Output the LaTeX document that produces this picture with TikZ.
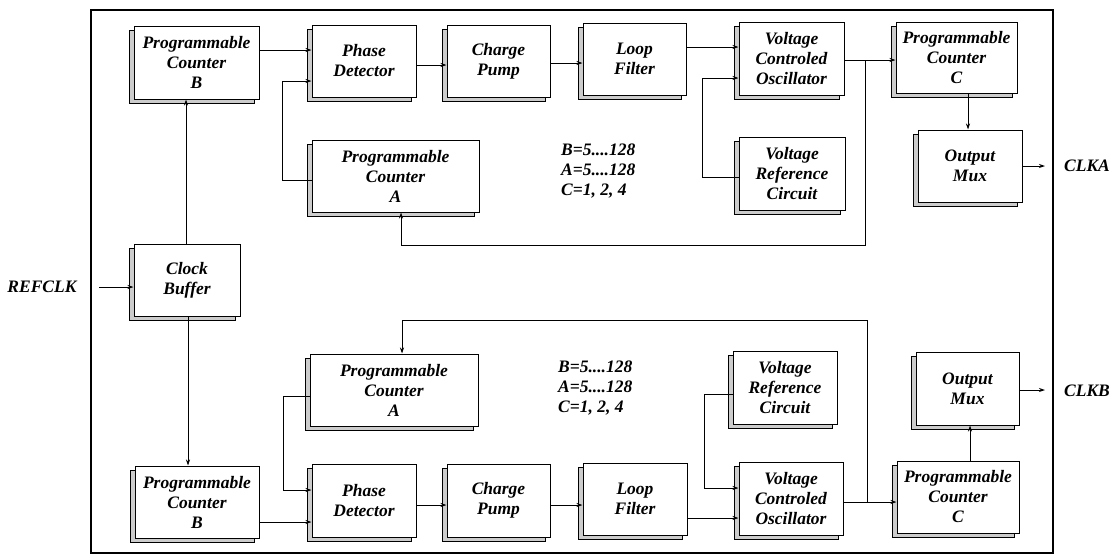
\documentclass[tikz,border=0pt]{standalone}
\usepackage{fontspec}
\setmainfont{Liberation Serif}
\usetikzlibrary{arrows.meta,shadows}
\begin{document}
\begin{tikzpicture}[x=1pt,y=-1pt,
  blk/.style={draw=black, line width=1pt, fill=white, inner sep=0pt, align=center,
    font=\fontsize{17.5}{20}\selectfont\bfseries\itshape,
    drop shadow={shadow xshift=-4.5pt, shadow yshift=-4.5pt, fill=gray!40, draw=black, line width=0.4pt, opacity=1}},
  lbl/.style={inner sep=0pt, font=\fontsize{17.5}{20}\selectfont\bfseries\itshape},
  arr/.style={line width=0.9pt, -{Stealth[length=6pt,width=4pt]}},
  ln/.style={line width=0.9pt}]
\useasboundingbox (0,0) rectangle (1119,558);
\draw[line width=1.1pt] (91,10) rectangle (1053,553);

% ---------- top channel ----------
\node[blk, minimum width=125pt, minimum height=73pt] (pcbT) at (196.5,62.5) {Programmable\\Counter\\B};
\node[blk, minimum width=104pt, minimum height=72pt] (pdT) at (364,61) {Phase\\Detector};
\node[blk, minimum width=103pt, minimum height=72pt] (cpT) at (498.5,61) {Charge\\Pump};
\node[blk, minimum width=103pt, minimum height=72pt] (lfT) at (634.5,59) {Loop\\Filter};
\node[blk, minimum width=105pt, minimum height=73pt] (vcoT) at (791.5,58.5) {Voltage\\Controled\\Oscillator};
\node[blk, minimum width=121pt, minimum height=71pt] (pccT) at (956.5,57.5) {Programmable\\Counter\\C};
\node[blk, minimum width=104pt, minimum height=72pt] (muxT) at (970,166) {Output\\Mux};
\node[blk, minimum width=106pt, minimum height=73pt] (vrcT) at (792,173.5) {Voltage\\Reference\\Circuit};
\node[blk, minimum width=167pt, minimum height=72pt] (pcaT) at (395.5,176) {Programmable\\Counter\\A};
\node[lbl, align=left, anchor=west] (parT) at (561,171) {B=5....128\\A=5....128\\C=1, 2, 4};

\node[blk, minimum width=106pt, minimum height=72pt] (cbuf) at (187,280) {Clock\\Buffer};
\node[lbl] (refclk) at (42,287) {REFCLK};
\coordinate (refin) at (99,287);

% ---------- bottom channel ----------
\node[blk, minimum width=168pt, minimum height=72pt] (pcaB) at (394,390) {Programmable\\Counter\\A};
\node[blk, minimum width=124pt, minimum height=72pt] (pcbB) at (197,502) {Programmable\\Counter\\B};
\node[blk, minimum width=104pt, minimum height=73pt] (pdB) at (364,500.5) {Phase\\Detector};
\node[blk, minimum width=103pt, minimum height=73pt] (cpB) at (498.5,500.5) {Charge\\Pump};
\node[blk, minimum width=104pt, minimum height=72pt] (lfB) at (635,499) {Loop\\Filter};
\node[blk, minimum width=104pt, minimum height=73pt] (vrcB) at (785,387.5) {Voltage\\Reference\\Circuit};
\node[blk, minimum width=104pt, minimum height=73pt] (vcoB) at (791,498.5) {Voltage\\Controled\\Oscillator};
\node[blk, minimum width=122pt, minimum height=72pt] (pccB) at (958,497) {Programmable\\Counter\\C};
\node[blk, minimum width=103pt, minimum height=73pt] (muxB) at (967.5,388.5) {Output\\Mux};
\node[lbl, align=left, anchor=west] (parB) at (558,388) {B=5....128\\A=5....128\\C=1, 2, 4};

\node[lbl] (clka) at (1087,166) {CLKA};
\node[lbl] (clkb) at (1087,391) {CLKB};
\coordinate (outA) at (1045,166);
\coordinate (outB) at (1045,390);
\coordinate (jT) at (865,60);
\coordinate (jB) at (867,502);

% ---------- connectors: top ----------
\draw[arr] (refin) -- (cbuf.west |- refin);
\draw[arr] (cbuf.north -| 186,0) -- (pcbT.south -| 186,0);
\draw[arr] (cbuf.south -| 188,0) -- (pcbB.north -| 188,0);

\draw[arr] (pcbT.east |- 0,50) -- (pdT.west |- 0,50);
\draw[arr] (pcaT.west |- 0,180) -- (282,180) -- (282,81) -- (pdT.west |- 0,81);
\draw[arr] (pdT.east |- 0,65) -- (cpT.west |- 0,65);
\draw[arr] (cpT.east |- 0,63) -- (lfT.west |- 0,63);
\draw[arr] (lfT.east |- 0,47) -- (vcoT.west |- 0,47);
\draw[arr] (vrcT.west |- 0,177) -- (702,177) -- (702,78) -- (vcoT.west |- 0,78);
\draw[arr] (vcoT.east |- jT) -- (pccT.west |- jT);
\draw[arr] (jT) -- (865,245) -- (401,245) -- (pcaT.south -| 401,0);
\draw[arr] (pccT.south -| 968,0) -- (muxT.north -| 968,0);
\draw[arr] (muxT.east) -- (outA);

% ---------- connectors: bottom ----------
\draw[arr] (pcbB.east |- 0,522) -- (pdB.west |- 0,522);
\draw[arr] (pcaB.west |- 0,396) -- (283,396) -- (283,490) -- (pdB.west |- 0,490);
\draw[arr] (pdB.east |- 0,505) -- (cpB.west |- 0,505);
\draw[arr] (cpB.east |- 0,505) -- (lfB.west |- 0,505);
\draw[arr] (lfB.east |- 0,518) -- (vcoB.west |- 0,518);
\draw[arr] (vrcB.west |- 0,394) -- (704,394) -- (704,488) -- (vcoB.west |- 0,488);
\draw[arr] (vcoB.east |- jB) -- (pccB.west |- jB);
\draw[arr] (jB) -- (867,320) -- (402,320) -- (pcaB.north -| 402,0);
\draw[arr] (pccB.north -| 970,0) -- (muxB.south -| 970,0);
\draw[arr] (muxB.east |- outB) -- (outB);
\end{tikzpicture}
\end{document}
